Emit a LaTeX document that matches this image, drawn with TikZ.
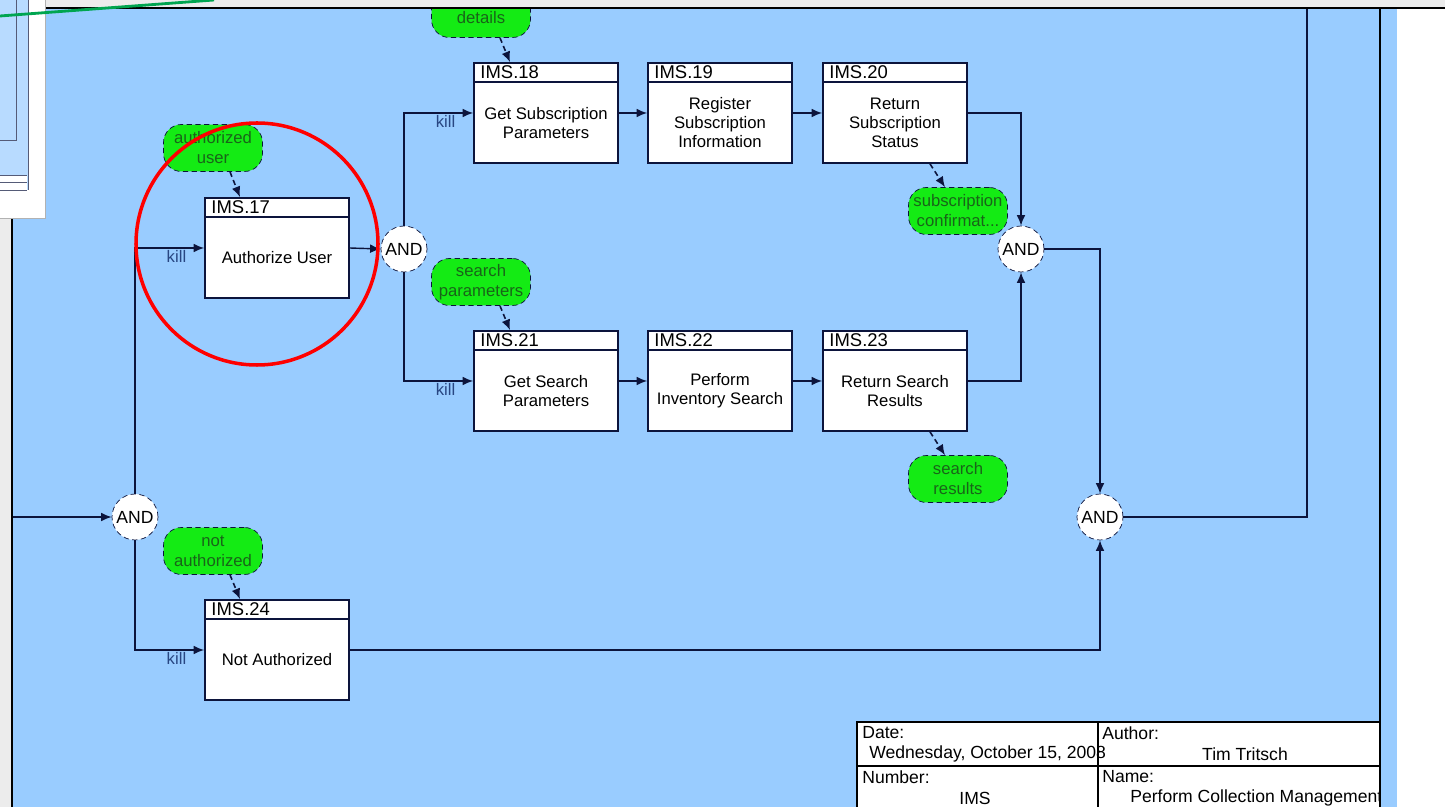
\documentclass[tikz,border=0pt]{standalone}
\usepackage{fontspec}
\setmainfont{Liberation Sans}
\usetikzlibrary{arrows.meta}
\definecolor{sheet}{RGB}{153,204,255}
\definecolor{wire}{RGB}{12,20,60}
\definecolor{pill}{RGB}{20,235,20}
\definecolor{pilltext}{RGB}{25,100,25}
\definecolor{killtext}{RGB}{40,70,130}
\definecolor{paper}{RGB}{236,236,236}
\definecolor{pointer}{RGB}{0,165,80}
\begin{document}
\begin{tikzpicture}[x=0.02cm,y=-0.02cm,
    flow/.style={draw=wire,line width=0.8pt,-{Latex[length=6pt,width=5pt]}},
    dflow/.style={draw=wire,densely dashed,line width=0.9pt,-{Latex[length=6pt,width=5pt]}},
    proc/.style={draw=wire,line width=1pt,fill=white,minimum width=2.88cm,minimum height=2cm,inner sep=0pt},
    gate/.style={circle,draw=wire,densely dashed,fill=white,minimum size=0.92cm,inner sep=0pt,font=\fontsize{10}{12}\selectfont},
    data/.style={rounded corners=0.36cm,draw=wire,densely dashed,fill=pill,minimum width=1.98cm,minimum height=0.94cm,
      align=center,text=pilltext,inner sep=0pt,font=\fontsize{9.5}{11.4}\selectfont},
    kill/.style={text=killtext,font=\fontsize{9.5}{11}\selectfont,inner sep=1pt},
    cell/.style={inner sep=0pt,font=\fontsize{10}{12}\selectfont}]
  \useasboundingbox (0,0) rectangle (1445,807);

  % SHEET
  \fill[white] (0,0) rectangle (1445,807);
  \fill[paper] (0,0) rectangle (12,807);
  \fill[sheet] (12,8) rectangle (1397,807);
  \coordinate (in) at (12,517);
  \coordinate (out) at (1307,8);

  % PROCESSES
  \foreach \n/\x/\y/\t in {17/277/248/{Authorize User},
      18/546/113/{Get Subscription\\Parameters},
      19/720/113/{Register\\Subscription\\Information},
      20/895/113/{Return\\Subscription\\Status},
      21/546/381/{Get Search\\Parameters},
      22/720/381/{Perform\\Inventory Search},
      23/895/381/{Return Search\\Results},
      24/277/650/{Not Authorized}}{
    \node[proc] (p\n) at (\x,\y) {};
    \draw[wire,line width=1pt] ([yshift=-0.4cm]p\n.north west) -- ([yshift=-0.4cm]p\n.north east);
    \node[anchor=west,inner sep=0pt,font=\fontsize{10.5}{12}\selectfont] (h\n) at ([xshift=0.14cm,yshift=-0.2cm]p\n.north west) {IMS.\n};
    \node[align=center,inner sep=0pt,font=\fontsize{9.5}{10.8}\selectfont] (b\n) at ([yshift=-0.2cm]p\n.center) {\t};
  }

  % JUNCTIONS
  \node[gate] (a1) at (135,517) {AND};
  \node[gate] (a2) at (404,249) {AND};
  \node[gate] (a3) at (1021,249) {AND};
  \node[gate] (a4) at (1100,517) {AND};

  % DATA
  \node[data] (d1) at (213,148) {authorized\\user};
  \node[data] (d2) at (481,14) {\mbox{}\\details};
  \node[data] (d3) at (481,282) {search\\parameters};
  \node[data] (d4) at (958,211) {subscription\\confirmat...};
  \node[data] (d5) at (958,479) {search\\results};
  \node[data] (d6) at (213,551) {not\\authorized};

  % FLOW
  \draw[flow] (in) -- (a1.west);
  \draw[flow] (a1.north) |- node[kill,pos=0.8,below] (k17) {kill} (p17.west);
  \draw[flow] (a1.south) |- node[kill,pos=0.8,below] (k24) {kill} (p24.west);
  \draw[flow] (p17.east) -- (a2.west);
  \draw[flow] (a2.north) |- node[kill,pos=0.8,below] (k18) {kill} (p18.west);
  \draw[flow] (a2.south) |- node[kill,pos=0.8,below] (k21) {kill} (p21.west);
  \draw[flow] (p18) -- (p19);
  \draw[flow] (p19) -- (p20);
  \draw[flow] (p21) -- (p22);
  \draw[flow] (p22) -- (p23);
  \draw[flow] (p20.east) -| (a3.north);
  \draw[flow] (p23.east) -| (a3.south);
  \draw[flow] (a3.east) -| (a4.north);
  \draw[flow] (p24.east) -| (a4.south);
  \draw[wire,line width=0.8pt] (a4.east) -| (out);

  % DATA LINKS
  \draw[dflow] ([xshift=0.34cm]d1.south) -- ([xshift=-0.74cm]p17.north);
  \draw[dflow] ([xshift=0.38cm]d2.south) -- ([xshift=-0.72cm]p18.north);
  \draw[dflow] ([xshift=0.38cm]d3.south) -- ([xshift=-0.72cm]p21.north);
  \draw[dflow] ([xshift=0.34cm]d6.south) -- ([xshift=-0.74cm]p24.north);
  \draw[dflow] ([xshift=0.7cm]p20.south) -- ([xshift=-0.26cm]d4.north);
  \draw[dflow] ([xshift=0.7cm]p23.south) -- ([xshift=-0.26cm]d5.north);

  % TITLE BLOCK
  \fill[white] (857,722) rectangle (1380,812);
  \begin{scope}
    \clip (857,722) rectangle (1380,812);
    \node[cell,anchor=west] (tdate) at (862,733) {Date:};
    \node[cell,anchor=west] (tday) at (869,754) {Wednesday, October 15, 2008};
    \node[cell,anchor=west] (tauth) at (1102,733) {Author:};
    \node[cell] (tname) at (1245,754) {Tim Tritsch};
    \node[cell,anchor=west] (tnum) at (862,777) {Number:};
    \node[cell] (tims) at (975,798) {IMS};
    \node[cell,anchor=west] (ttitle) at (1102,777) {Name:};
    \node[cell,anchor=west] (tproc) at (1130,798) {Perform Collection Management};
  \end{scope}
  \draw[black,line width=1.4pt] (857,812) -- (857,722) -- (1380,722);
  \draw[black,line width=1.4pt] (857,766) -- (1380,766);
  \draw[black,line width=1.4pt] (1098,722) -- (1098,812);

  % FRAME
  \fill[paper] (0,0) rectangle (1445,7);
  \draw[black,line width=1.2pt] (45,8) -- (1445,8);
  \draw[black,line width=1.2pt] (12,218) -- (12,807);
  \draw[black,line width=1.4pt] (1380,8) -- (1380,807);

  % THUMBNAIL
  \fill[white] (0,0) rectangle (45,218);
  \draw[gray!60] (0,218) -- (45,218) -- (45,0);
  \fill[sheet!70!white] (0,0) rectangle (28,190);
  \draw[wire!70,line width=0.4pt] (0,140) -- (16,140) -- (16,0);
  \draw[wire!70,line width=0.4pt] (28,0) -- (28,190);
  \fill[white] (0,175) rectangle (27,190);
  \draw[wire!70,line width=0.4pt] (0,175) -- (27,175) (0,182) -- (27,182) (0,190) -- (27,190);
  \draw[pointer,line width=1.6pt] (0,16) -- (214,0);

  % HIGHLIGHT
  \draw[red,line width=2pt] (257,244) circle (121);
\end{tikzpicture}
\end{document}
